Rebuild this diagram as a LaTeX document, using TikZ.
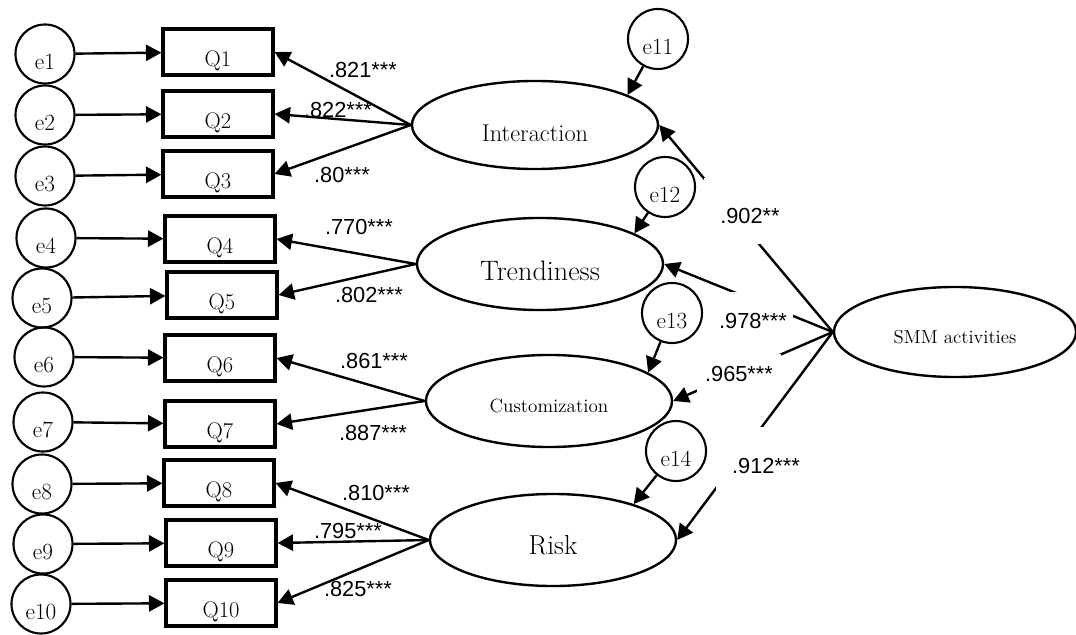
\documentclass[tikz,border=0pt]{standalone}
\usepackage{fontspec}
\setmainfont{Latin Modern Roman}
\newfontfamily\coeffont{Liberation Sans}
\usetikzlibrary{arrows.meta,shapes.geometric}
\definecolor{ink}{HTML}{000000}
\tikzset{
  errvar/.style={
    circle, draw=ink, line width=1.5pt,
    minimum size=1.475cm, inner sep=1pt,
    font=\fontsize{16.5}{19}\selectfont,
    text height=22pt, text depth=0pt
  },
  item/.style={
    rectangle, draw=ink, line width=2.2pt,
    minimum width=2.75cm, minimum height=1.15cm,
    font=\fontsize{16}{19}\selectfont,
    text height=20pt, text depth=0pt
  },
  latent/.style={
    ellipse, draw=ink, line width=1.7pt,
    minimum width=6.15cm, minimum height=2.3cm,
    text depth=0pt
  },
  arrow/.style={
    -{Triangle[length=11pt,width=11.5pt]},
    line width=1.7pt, draw=ink
  },
  coef/.style={font=\coeffont\fontsize{15.5}{18}\selectfont, inner sep=1pt},
  coefbox/.style={coef, fill=white},
}

\begin{document}
\begin{tikzpicture}[x=0.025cm, y=-0.025cm]
  \useasboundingbox (0,0) rectangle (1076,635);

  % error terms of the items
  \node[errvar] (e1) at (45,54) {e1};
  \node[errvar] (e2) at (45,115) {e2};
  \node[errvar] (e3) at (45,176) {e3};
  \node[errvar] (e4) at (46,238) {e4};
  \node[errvar] (e5) at (42,298) {e5};
  \node[errvar] (e6) at (44,357) {e6};
  \node[errvar] (e7) at (43,422) {e7};
  \node[errvar] (e8) at (42,484) {e8};
  \node[errvar] (e9) at (43,544) {e9};
  \node[errvar] (e10) at (41,604) {e10};

  % observed items
  \node[item] (q1) at (218,52) {Q1};
  \node[item] (q2) at (218,114) {Q2};
  \node[item] (q3) at (218,174) {Q3};
  \node[item] (q4) at (220,239) {Q4};
  \node[item] (q5) at (222,295) {Q5};
  \node[item] (q6) at (220,358) {Q6};
  \node[item] (q7) at (220,424) {Q7};
  \node[item] (q8) at (219,483) {Q8};
  \node[item] (q9) at (221,543) {Q9};
  \node[item] (q10) at (221,603) {Q10};

  % first-order and second-order factors
  \node[latent, minimum height=2.2cm, font=\fontsize{17.3}{20}\selectfont, text height=24pt] (inter) at (535,125) {Interaction};
  \node[latent, font=\fontsize{20}{23}\selectfont, text height=23pt] (trend) at (540,264) {Trendiness};
  \node[latent, font=\fontsize{13.6}{16}\selectfont, text height=17pt] (cust) at (549,401) {Customization};
  \node[latent, font=\fontsize{19.5}{22}\selectfont, text height=21pt] (risk) at (553,540) {Risk};
  \node[latent, minimum width=6.05cm, minimum height=2.25cm, font=\fontsize{13.4}{16}\selectfont, text height=17pt] (smm) at (955,332) {SMM activities};

  % disturbances
  \node[errvar, minimum size=1.5cm] (e11) at (658,39) {e11};
  \node[errvar, minimum size=1.5cm] (e12) at (665,187) {e12};
  \node[errvar, minimum size=1.5cm] (e13) at (672,313) {e13};
  \node[errvar, minimum size=1.5cm] (e14) at (676,451) {e14};

  \draw[arrow] (e1) -- (q1);
  \draw[arrow] (e2) -- (q2);
  \draw[arrow] (e3) -- (q3);
  \draw[arrow] (e4) -- (q4);
  \draw[arrow] (e5) -- (q5);
  \draw[arrow] (e6) -- (q6);
  \draw[arrow] (e7) -- (q7);
  \draw[arrow] (e8) -- (q8);
  \draw[arrow] (e9) -- (q9);
  \draw[arrow] (e10) -- (q10);

  \draw[arrow] (inter.west) -- (q1.east);
  \draw[arrow] (inter.west) -- (q2.east);
  \draw[arrow] (inter.west) -- (q3.east);
  \draw[arrow] (trend.west) -- (q4.east);
  \draw[arrow] (trend.west) -- (q5.east);
  \draw[arrow] (cust.west) -- (q6.east);
  \draw[arrow] (cust.west) -- (q7.east);
  \draw[arrow] (risk.west) -- (q8.east);
  \draw[arrow] (risk.west) -- (q9.east);
  \draw[arrow] (risk.west) -- (q10.east);

  \draw[arrow] (e11) -- (inter.18);
  \draw[arrow] (e12) -- (trend.18);
  \draw[arrow] (e13) -- (cust.16);
  \draw[arrow] (e14) -- (risk.24);

  \draw[arrow] (smm.west) -- (inter.east);
  \draw[arrow] (smm.west) -- (trend.east);
  \draw[arrow] (smm.west) -- (cust.east);
  \draw[arrow] (smm.west) -- (risk.east);

  % loadings
  \node[coef] (l1) at (363,70) {.821***};
  \node[coef] (l2) at (338,110) {.822***};
  \node[coef] (l3) at (342,175) {.80***};
  \node[coef] (l4) at (359,227) {.770***};
  \node[coef] (l5) at (369,295) {.802***};
  \node[coef] (l6) at (374,361) {.861***};
  \node[coef] (l7) at (373,433) {.887***};
  \node[coef] (l8) at (376,493) {.810***};
  \node[coef] (l9) at (348,531) {.795***};
  \node[coef] (l10) at (358,589) {.825***};

  % second-order paths, labels break the lines
  \node[coefbox, minimum width=2.3cm, minimum height=1.65cm, text height=18pt, text depth=0pt] (g1) at (750,211) {.902**};
  \node[coefbox, minimum width=2.0cm, minimum height=1.1cm, text height=21pt, text depth=0pt] (g2) at (753,314) {.978***};
  \node[coefbox, minimum width=2.1cm, minimum height=1.0cm] (g3) at (739,374) {.965***};
  \node[coefbox, minimum width=2.5cm, minimum height=1.65cm, text height=19.5pt, text depth=0pt] (g4) at (766,460) {.912***};
\end{tikzpicture}
\end{document}
